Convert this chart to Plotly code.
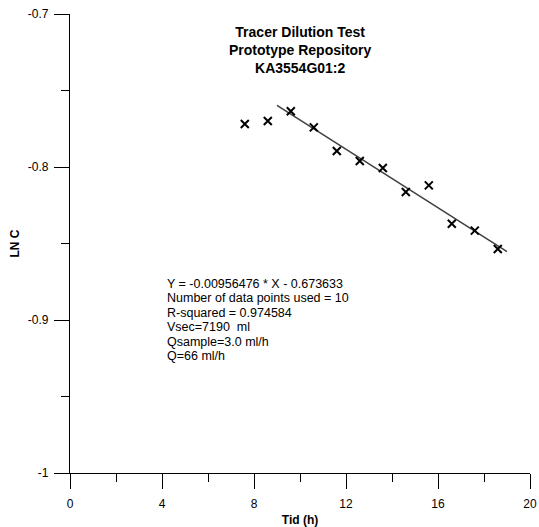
import plotly.graph_objects as go

# Data
tid_h = [7.6, 8.6, 9.6, 10.6, 11.6, 12.6, 13.6, 14.6, 15.6, 16.6, 17.6, 18.6]
ln_c = [-0.7719, -0.7699, -0.7636, -0.7741, -0.7895, -0.7961, -0.8007,
        -0.8163, -0.8120, -0.8371, -0.8416, -0.8536]

fit_slope = -0.00956476
fit_intercept = -0.673633
fit_x_range = [9.0, 19.0]
fit_y = [fit_slope * x + fit_intercept for x in fit_x_range]

x_tick_vals = [0, 4, 8, 12, 16, 20]
x_tick_labels = ["0", "4", "8", "12", "16", "20"]
x_minor_vals = [2, 6, 10, 14, 18]
y_tick_vals = [-1.0, -0.9, -0.8, -0.7]
y_tick_labels = ["-1", "-0.9", "-0.8", "-0.7"]
y_minor_vals = [-0.95, -0.85, -0.75]

title_lines = ["Tracer Dilution Test", "Prototype Repository", "KA3554G01:2"]
info_lines = [
    "Y = -0.00956476 * X - 0.673633",
    "Number of data points used = 10",
    "R-squared = 0.974584",
    "Vsec=7190  ml",
    "Qsample=3.0 ml/h",
    "Q=66 ml/h",
]

FONT = "Liberation Sans, Arial, sans-serif"

fig = go.Figure()
fig.add_trace(go.Scatter(
    x=fit_x_range, y=fit_y, mode="lines",
    line=dict(color="#404040", width=1.5), showlegend=False, hoverinfo="skip"))
fig.add_trace(go.Scatter(
    x=tid_h, y=ln_c, mode="markers",
    marker=dict(symbol="x-thin", size=8, color="black",
                line=dict(color="black", width=2)),
    showlegend=False))

W, H = 539, 527
ml, mr, mt, mb = 70, 9, 14, 54
ph = H - mt - mb
pw = W - ml - mr

def py(px):
    return (H - mb - px) / ph

def px_x(px):
    return (px - ml) / pw

annotations = [dict(
    text="<br>".join("<b>%s</b>" % t for t in title_lines),
    xref="paper", yref="paper", x=0.5, y=py(22), xanchor="center", yanchor="top",
    showarrow=False, font=dict(family=FONT, size=14, color="black"), align="center")]

for i, line in enumerate(info_lines):
    annotations.append(dict(
        text=line, xref="paper", yref="paper",
        x=px_x(165), y=py(283.8 + i * 14.5),
        xanchor="left", yanchor="middle", showarrow=False,
        font=dict(family=FONT, size=12.5, color="black")))

axis_common = dict(
    showgrid=False, zeroline=False, showline=True, linecolor="black", linewidth=1.2,
    ticks="outside", ticklen=15, tickwidth=1.2, tickcolor="black",
    tickfont=dict(family=FONT, size=12, color="black"), automargin=False,
    ticklabeloverflow="allow",
)

fig.update_layout(
    width=W, height=H,
    margin=dict(l=ml, r=mr, t=mt, b=mb),
    paper_bgcolor="white", plot_bgcolor="white",
    font=dict(family=FONT, color="black"),
    xaxis=dict(
        range=[0, 20], tickvals=x_tick_vals, ticktext=x_tick_labels,
        ticklabelstandoff=4,
        minor=dict(tickvals=x_minor_vals, ticks="outside", ticklen=8,
                   tickwidth=1.2, tickcolor="black"),
        title=dict(text="<b>Tid (h)</b>", font=dict(family=FONT, size=12), standoff=6),
        **axis_common),
    yaxis=dict(
        range=[-1, -0.7], tickvals=y_tick_vals, ticktext=y_tick_labels,
        ticklabelstandoff=3,
        minor=dict(tickvals=y_minor_vals, ticks="outside", ticklen=8,
                   tickwidth=1.2, tickcolor="black"),
        title=dict(text="<b>LN C</b>", font=dict(family=FONT, size=12), standoff=5),
        **axis_common),
    annotations=annotations,
)

fig.write_html(
    "out.html",
    config={"displayModeBar": False},
    post_script="document.body.style.margin='0';document.body.style.overflow='hidden';",
)
